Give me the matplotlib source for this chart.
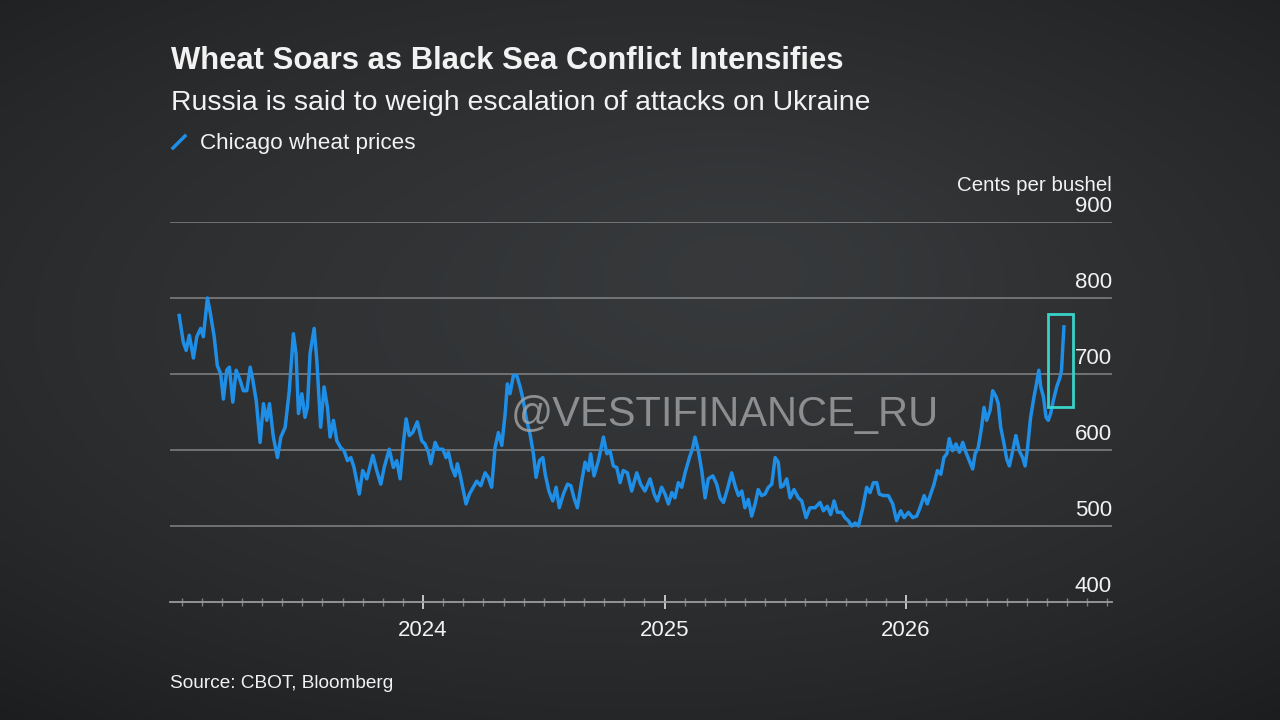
import numpy as np
from matplotlib import pyplot as plt
from matplotlib.patches import Rectangle
from matplotlib.ticker import FixedLocator, MultipleLocator

plt.rcParams['font.family'] = ['Liberation Sans', 'DejaVu Sans']

# Chicago wheat prices, cents per bushel (dates as decimal years)
dates = [
    2022.990, 2023.007, 2023.019, 2023.032, 2023.049, 2023.063, 2023.079, 2023.090,
    2023.107, 2023.118, 2023.135, 2023.148, 2023.162, 2023.173, 2023.187, 2023.198,
    2023.212, 2023.226, 2023.242, 2023.256, 2023.270, 2023.284, 2023.295, 2023.309,
    2023.325, 2023.339, 2023.353, 2023.364, 2023.380, 2023.397, 2023.411, 2023.429,
    2023.446, 2023.463, 2023.474, 2023.484, 2023.498, 2023.511, 2023.521, 2023.532,
    2023.549, 2023.560, 2023.576, 2023.590, 2023.604, 2023.615, 2023.629, 2023.643,
    2023.659, 2023.673, 2023.687, 2023.701, 2023.714, 2023.736, 2023.750, 2023.767,
    2023.792, 2023.808, 2023.825, 2023.839, 2023.860, 2023.877, 2023.891, 2023.905,
    2023.918, 2023.930, 2023.943, 2023.957, 2023.976, 2023.995, 2024.008, 2024.022,
    2024.032, 2024.050, 2024.063, 2024.082, 2024.095, 2024.105, 2024.119, 2024.133,
    2024.142, 2024.153, 2024.167, 2024.178, 2024.192, 2024.208, 2024.222, 2024.239,
    2024.257, 2024.270, 2024.284, 2024.298, 2024.312, 2024.326, 2024.340, 2024.349,
    2024.360, 2024.374, 2024.388, 2024.402, 2024.415, 2024.429, 2024.443, 2024.457,
    2024.468, 2024.482, 2024.496, 2024.506, 2024.521, 2024.537, 2024.551, 2024.564,
    2024.581, 2024.598, 2024.612, 2024.625, 2024.639, 2024.657, 2024.671, 2024.685,
    2024.694, 2024.708, 2024.726, 2024.747, 2024.761, 2024.774, 2024.788, 2024.802,
    2024.816, 2024.829, 2024.846, 2024.864, 2024.885, 2024.901, 2024.919, 2024.940,
    2024.957, 2024.970, 2024.988, 2025.002, 2025.016, 2025.030, 2025.043, 2025.057,
    2025.071, 2025.085, 2025.103, 2025.117, 2025.126, 2025.140, 2025.154, 2025.168,
    2025.181, 2025.200, 2025.216, 2025.230, 2025.244, 2025.260, 2025.278, 2025.292,
    2025.306, 2025.320, 2025.333, 2025.347, 2025.361, 2025.375, 2025.388, 2025.402,
    2025.416, 2025.430, 2025.444, 2025.458, 2025.471, 2025.481, 2025.492, 2025.506,
    2025.520, 2025.536, 2025.554, 2025.568, 2025.586, 2025.602, 2025.623, 2025.644,
    2025.658, 2025.674, 2025.688, 2025.702, 2025.716, 2025.734, 2025.747, 2025.761,
    2025.775, 2025.789, 2025.803, 2025.821, 2025.837, 2025.851, 2025.865, 2025.879,
    2025.889, 2025.906, 2025.927, 2025.945, 2025.961, 2025.978, 2025.992, 2026.010,
    2026.028, 2026.044, 2026.058, 2026.075, 2026.088, 2026.102, 2026.116, 2026.130,
    2026.144, 2026.157, 2026.169, 2026.179, 2026.193, 2026.207, 2026.221, 2026.235,
    2026.248, 2026.262, 2026.276, 2026.286, 2026.299, 2026.313, 2026.323, 2026.334,
    2026.348, 2026.359, 2026.373, 2026.382, 2026.392, 2026.406, 2026.417, 2026.428,
    2026.442, 2026.455, 2026.469, 2026.483, 2026.493, 2026.502, 2026.516, 2026.530,
    2026.538, 2026.550, 2026.558, 2026.569, 2026.580, 2026.589, 2026.599, 2026.610,
    2026.624, 2026.638, 2026.644, 2026.649, 2026.654,
]
prices = [
    777, 742, 731, 751, 721, 749, 760, 749,
    800, 782, 749, 711, 700, 667, 705, 709,
    663, 705, 692, 678, 678, 709, 692, 665,
    610, 661, 639, 661, 617, 590, 617, 630,
    678, 753, 727, 648, 674, 643, 656, 727,
    760, 718, 630, 683, 656, 617, 639, 612,
    603, 599, 586, 590, 577, 542, 573, 562,
    593, 573, 555, 577, 601, 577, 586, 562,
    608, 641, 619, 623, 637, 612, 608, 597,
    582, 610, 601, 601, 590, 597, 577, 566,
    582, 568, 546, 529, 542, 551, 559, 553,
    570, 564, 551, 603, 623, 606, 648, 687,
    674, 698, 698, 683, 665, 639, 621, 595,
    564, 586, 590, 568, 546, 533, 551, 524,
    542, 555, 553, 537, 524, 559, 584, 573,
    595, 566, 586, 617, 595, 599, 579, 577,
    557, 573, 570, 546, 570, 555, 546, 562,
    542, 533, 551, 542, 529, 544, 537, 557,
    551, 570, 590, 603, 617, 599, 573, 537,
    562, 566, 555, 537, 531, 548, 570, 553,
    540, 546, 524, 535, 513, 529, 548, 540,
    542, 551, 555, 590, 584, 551, 553, 562,
    537, 548, 537, 533, 511, 524, 524, 531,
    520, 526, 515, 533, 518, 518, 511, 507,
    500, 504, 500, 524, 551, 544, 557, 557,
    542, 540, 540, 529, 507, 520, 511, 518,
    511, 513, 524, 540, 529, 542, 555, 573,
    568, 590, 595, 615, 599, 608, 597, 610,
    597, 586, 575, 595, 603, 630, 656, 639,
    652, 678, 670, 661, 630, 608, 588, 579,
    599, 619, 599, 590, 579, 599, 643, 670,
    683, 705, 683, 670, 643, 639, 648, 665,
    683, 696, 705, 735, 762,
]
years = [2024, 2025, 2026]
yticks = [400, 500, 600, 700, 800, 900]
# highlighted recent jump (decimal years, cents)
box_x = (2026.589, 2026.692)
box_y = (656, 779)

bg = '#2b2d2f'
fg = '#f2f2f2'
line_color = '#1f8ee6'

fig = plt.figure(figsize=(12.8, 7.2), dpi=100, facecolor=bg)

# chalkboard-ish background: smooth vignette
bax = fig.add_axes([0, 0, 1, 1], zorder=-10)
gx, gy = np.meshgrid(np.linspace(-1, 1, 256), np.linspace(-1, 1, 144))
shade = 0.205 - 0.045 * (gx ** 2 * 0.8 + (gy + 0.1) ** 2)
shade = shade + 0.02 * np.exp(-((gx - 0.2) ** 2 + (gy + 0.3) ** 2) / 0.15)
rgb = np.dstack([shade * 0.96, shade, shade * 1.04])
bax.imshow(np.clip(rgb, 0, 1), aspect='auto', extent=[0, 1, 0, 1], interpolation='bicubic')
bax.set_axis_off()

ax = fig.add_axes([170 / 1280, 1 - 602 / 720, 942 / 1280, 380 / 720])
ax.set_facecolor('none')
ax.plot(dates, prices, color=line_color, lw=2.5, solid_joinstyle='round', zorder=3)

ax.set_xlim(2022.952, 2026.853)
ax.set_ylim(400, 900)

for v in yticks:
    if v > 400:
        ax.axhline(v, color='#8d8f91', lw=1.3, alpha=0.75, zorder=1)
    ax.text(1.0, v + 6, str(v), transform=ax.get_yaxis_transform(), ha='right', va='bottom',
            fontsize=16, color=fg, clip_on=False)
ax.text(1.0, 936, 'Cents per bushel', transform=ax.get_yaxis_transform(), ha='right',
        va='bottom', fontsize=14.8, color=fg, clip_on=False)

ax.set_yticks([])
for s in ['top', 'right', 'left']:
    ax.spines[s].set_visible(False)
ax.spines['bottom'].set_color('#9a9c9e')
ax.spines['bottom'].set_linewidth(1.3)

ax.xaxis.set_major_locator(FixedLocator(years))
ax.xaxis.set_minor_locator(MultipleLocator(1 / 12))
ax.set_xticklabels([str(y) for y in years])
ax.tick_params(axis='x', which='major', length=10, width=1.3, color='#cfd0d1',
               labelsize=16, labelcolor=fg, pad=8, direction='inout')
ax.tick_params(axis='x', which='minor', length=6, width=1, color='#7d7f81', direction='inout')

ax.add_patch(Rectangle((box_x[0], box_y[0]), box_x[1] - box_x[0], box_y[1] - box_y[0],
                       fill=False, edgecolor='#39d2c8', lw=2.0, zorder=4, clip_on=False))

# titles and legend
fig.text(171 / 1280, 1 - 61 / 720, 'Wheat Soars as Black Sea Conflict Intensifies',
         fontsize=22.3, fontweight='bold', color=fg, va='center')
fig.text(171 / 1280, 1 - 103 / 720, 'Russia is said to weigh escalation of attacks on Ukraine',
         fontsize=20.4, color=fg, va='center')
fig.lines.append(plt.Line2D([173 / 1280, 185 / 1280], [1 - 148 / 720, 1 - 136 / 720],
                            transform=fig.transFigure, color=line_color, lw=2.5))
fig.text(200 / 1280, 1 - 143 / 720, 'Chicago wheat prices', fontsize=16.2, color=fg, va='center')
fig.text(170 / 1280, 1 - 683 / 720, 'Source: CBOT, Bloomberg', fontsize=13.7, color=fg, va='center')

# watermark
fig.text(725 / 1280, 1 - 415 / 720, '@VESTIFINANCE_RU', fontsize=30, color='#a3a5a6',
         alpha=0.8, ha='center', va='center', zorder=5)

plt.savefig('out.png', dpi=100, facecolor=bg)
plt.close()
